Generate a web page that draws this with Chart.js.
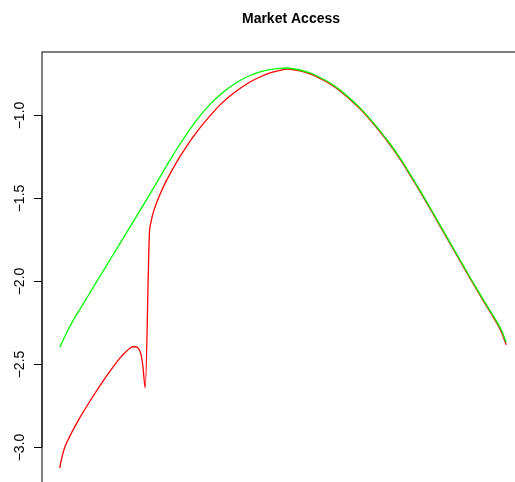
<!DOCTYPE html>
<html>
<head>
<meta charset="utf-8">
<title>Market Access</title>
<script src="https://cdn.jsdelivr.net/npm/chart.js@4/dist/chart.umd.min.js"></script>
<style>
  html, body { margin: 0; padding: 0; background: #ffffff; overflow: hidden; }
  #wrap { position: absolute; left: 0; top: 0; width: 540px; height: 500px; }
</style>
</head>
<body>
<div id="wrap"><canvas id="chart" width="540" height="500"></canvas></div>
<script>
// Series: position along the x range (0..100) and value
const greenX = [0, 0.673, 1.570, 2.915, 4.484, 6.726, 8.969, 11.211, 13.453, 15.695, 17.937, 20.179, 22.422, 24.664, 26.906, 29.148, 31.390, 33.632, 35.874, 38.117, 40.359, 42.601, 44.843, 47.085, 49.327, 50.673, 52.018, 53.812, 56.054, 58.296, 60.538, 62.780, 65.022, 67.265, 69.507, 71.749, 73.991, 76.233, 78.475, 80.717, 82.960, 85.202, 87.444, 89.686, 91.928, 94.170, 96.413, 97.982, 99.103, 100];
const greenY = [-2.399, -2.360, -2.309, -2.240, -2.171, -2.072, -1.973, -1.874, -1.775, -1.676, -1.577, -1.477, -1.375, -1.273, -1.177, -1.087, -1.006, -0.937, -0.880, -0.832, -0.793, -0.763, -0.742, -0.728, -0.720, -0.718, -0.721, -0.730, -0.748, -0.775, -0.808, -0.850, -0.901, -0.958, -1.024, -1.096, -1.174, -1.261, -1.357, -1.456, -1.559, -1.664, -1.769, -1.874, -1.979, -2.081, -2.180, -2.249, -2.306, -2.369];

const redX = [0, 0.224, 0.448, 1.121, 2.242, 3.363, 4.484, 6.726, 8.969, 11.211, 13.453, 14.798, 15.695, 16.368, 17.040, 17.713, 18.161, 18.610, 19.126, 20.067, 20.404, 20.852, 21.525, 22.422, 23.543, 24.664, 26.906, 29.148, 31.390, 33.632, 35.874, 38.117, 40.359, 42.601, 44.843, 47.085, 49.327, 50.897, 52.466, 53.812, 56.054, 58.296, 60.538, 62.780, 65.022, 67.265, 69.507, 71.749, 73.991, 76.233, 78.475, 80.717, 82.960, 85.202, 87.444, 89.686, 91.928, 94.170, 96.413, 97.982, 99.103, 100];
const redY = [-3.126, -3.090, -3.063, -3.000, -2.934, -2.877, -2.823, -2.724, -2.631, -2.544, -2.465, -2.426, -2.405, -2.396, -2.396, -2.411, -2.441, -2.514, -2.643, -1.715, -1.649, -1.595, -1.541, -1.480, -1.414, -1.357, -1.252, -1.159, -1.078, -1.006, -0.940, -0.886, -0.841, -0.802, -0.772, -0.748, -0.732, -0.725, -0.729, -0.736, -0.754, -0.781, -0.814, -0.856, -0.907, -0.964, -1.030, -1.102, -1.180, -1.267, -1.363, -1.462, -1.565, -1.670, -1.775, -1.880, -1.985, -2.087, -2.187, -2.257, -2.318, -2.384];

const yTicks = [-1.0, -1.5, -2.0, -2.5, -3.0];
const chartTitle = 'Market Access';
const titleX = 291;

// Axis limits padded 4% beyond the data on each side
function padded(values) {
  const lo = Math.min(...values), hi = Math.max(...values);
  const d = (hi - lo) * 0.04;
  return [lo - d, hi + d];
}
const [xMin, xMax] = padded(greenX.concat(redX));
const [yMin, yMax] = padded(greenY.concat(redY));

const toPoints = (xs, ys) => xs.map((x, i) => ({ x: x, y: ys[i] }));

function fmt(v) {
  return v.toFixed(1).replace('-', '\u2212');
}

// Frame, left axis with rotated labels, and the title
const framePlugin = {
  id: 'frame',
  afterDraw(chart) {
    const ctx = chart.ctx;
    const a = chart.chartArea;
    const ys = chart.scales.y;
    ctx.save();
    ctx.strokeStyle = '#000000';
    ctx.lineWidth = 1;
    ctx.strokeRect(a.left, a.top, a.right - a.left, a.bottom - a.top);

    // axis line between the outer ticks
    const p0 = ys.getPixelForValue(yTicks[0]);
    const p1 = ys.getPixelForValue(yTicks[yTicks.length - 1]);
    ctx.beginPath();
    ctx.moveTo(a.left, p0);
    ctx.lineTo(a.left, p1);
    ctx.stroke();

    ctx.font = '14px "Liberation Sans", Arial, sans-serif';
    ctx.fillStyle = '#000000';
    ctx.textAlign = 'center';
    ctx.textBaseline = 'alphabetic';
    yTicks.forEach(v => {
      const py = Math.round(ys.getPixelForValue(v)) + 0.5;
      ctx.beginPath();
      ctx.moveTo(a.left - 8, py);
      ctx.lineTo(a.left, py);
      ctx.stroke();
      ctx.save();
      ctx.translate(a.left - 18.5, py);
      ctx.rotate(-Math.PI / 2);
      ctx.fillText(fmt(v), 0, 0);
      ctx.restore();
    });

    ctx.font = 'bold 14px "Liberation Sans", Arial, sans-serif';
    ctx.textAlign = 'center';
    ctx.fillText(chartTitle, titleX, 23);
    ctx.restore();
  }
};

new Chart(document.getElementById('chart'), {
  type: 'line',
  data: {
    datasets: [
      {
        label: 'green',
        data: toPoints(greenX, greenY),
        borderColor: '#00ff00',
        borderWidth: 1.3,
        pointRadius: 0,
        cubicInterpolationMode: 'monotone',
        fill: false
      },
      {
        label: 'red',
        data: toPoints(redX, redY),
        borderColor: '#ff0000',
        borderWidth: 1.3,
        pointRadius: 0,
        cubicInterpolationMode: 'monotone',
        fill: false
      }
    ]
  },
  options: {
    responsive: false,
    animation: false,
    devicePixelRatio: 1,
    layout: { padding: { left: 42, top: 52, right: 16, bottom: 16 } },
    plugins: {
      legend: { display: false },
      title: { display: false },
      tooltip: { enabled: false }
    },
    scales: {
      x: { type: 'linear', min: xMin, max: xMax, display: false },
      y: { type: 'linear', min: yMin, max: yMax, display: false }
    }
  },
  plugins: [framePlugin]
});
</script>
</body>
</html>
